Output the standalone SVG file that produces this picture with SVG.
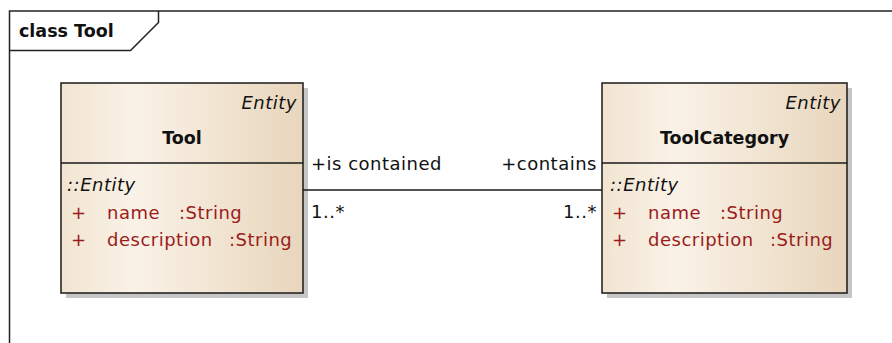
<svg xmlns="http://www.w3.org/2000/svg" width="892" height="343" viewBox="0 0 892 343">
  <defs>
    <linearGradient id="boxFill" x1="0" y1="0" x2="1" y2="0">
      <stop offset="0" stop-color="#F1E4D1"/>
      <stop offset="0.3" stop-color="#FAF2E7"/>
      <stop offset="1" stop-color="#E8D6BC"/>
    </linearGradient>
  </defs>
  <style>
    .frame { fill: none; stroke: #222; stroke-width: 1.5; }
    .shadow { fill: #C6C6C6; }
    .box { fill: url(#boxFill); stroke: #1a1a1a; stroke-width: 1.5; }
    .div { stroke: #1a1a1a; stroke-width: 1.5; }
    .conn { stroke: #1a1a1a; stroke-width: 1.5; fill: none; }
    .t { font-family: "DejaVu Sans", sans-serif; font-size: 18px; letter-spacing: 0.5px; fill: #111; white-space: pre; }
    .b { font-family: "DejaVu Sans", sans-serif; font-size: 17.5px; font-weight: bold; fill: #111; }
    .i { font-style: italic; }
    .attr { fill: #9B1B1B; }
  </style>
  <rect width="892" height="343" fill="#fff"/>
  <g id="frame">
    <path class="frame" d="M9.5,343 V11 H892"/>
    <path class="frame" d="M9.5,50.5 H130.5 L158.5,22.5 V11"/>
    <text class="b" x="19" y="36.5">class Tool</text>
  </g>
  <g id="Tool">
    <rect class="shadow" x="66" y="88" width="242" height="210"/>
    <rect class="box" x="61" y="83" width="242" height="210"/>
    <line class="div" x1="61" y1="163" x2="303" y2="163"/>
    <text class="t i" x="297" y="109" text-anchor="end">Entity</text>
    <text class="b" x="182" y="144" text-anchor="middle">Tool</text>
    <text class="t i" x="67" y="191">::Entity</text>
    <text class="t attr" y="219"><tspan x="71">+</tspan><tspan x="107">name</tspan><tspan x="179">:String</tspan></text>
    <text class="t attr" y="246"><tspan x="71">+</tspan><tspan x="107">description</tspan><tspan x="229">:String</tspan></text>
  </g>
  <g id="ToolCategory">
    <rect class="shadow" x="607" y="88" width="245" height="210"/>
    <rect class="box" x="602" y="83" width="245" height="210"/>
    <line class="div" x1="602" y1="163" x2="847" y2="163"/>
    <text class="t i" x="841" y="109" text-anchor="end">Entity</text>
    <text class="b" x="724.5" y="144" text-anchor="middle">ToolCategory</text>
    <text class="t i" x="610" y="191">::Entity</text>
    <text class="t attr" y="219"><tspan x="612">+</tspan><tspan x="648">name</tspan><tspan x="720">:String</tspan></text>
    <text class="t attr" y="246"><tspan x="612">+</tspan><tspan x="648">description</tspan><tspan x="770">:String</tspan></text>
  </g>
  <g id="connectors">
    <line class="conn" x1="303" y1="190" x2="602" y2="190"/>
    <text class="t" x="311" y="170">+is contained</text>
    <text class="t" x="597" y="170" text-anchor="end">+contains</text>
    <text class="t" x="311" y="218">1..*</text>
    <text class="t" x="597" y="218" text-anchor="end">1..*</text>
  </g>
</svg>
